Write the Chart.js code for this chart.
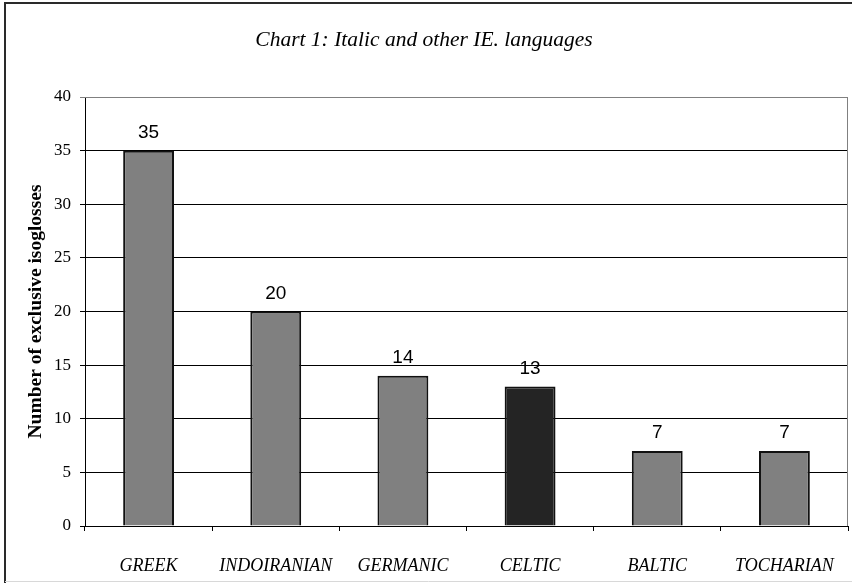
<!DOCTYPE html>
<html>
<head>
<meta charset="utf-8">
<script src="https://cdn.jsdelivr.net/npm/chart.js@4/dist/chart.umd.min.js"></script>
<style>
  html, body { margin: 0; padding: 0; background: #fff; }
  #wrap { width: 852px; height: 583px; }
</style>
</head>
<body>
<div id="wrap"><canvas id="chart" width="852" height="583"></canvas></div>
<script>
const languages = ['GREEK', 'INDOIRANIAN', 'GERMANIC', 'CELTIC', 'BALTIC', 'TOCHARIAN'];
const isoglosses = [35, 20, 14, 13, 7, 7];
const barColors = ['#808080', '#808080', '#808080', '#242424', '#808080', '#808080'];
const yTicks = [0, 5, 10, 15, 20, 25, 30, 35, 40];

const serif = '"Liberation Serif", "Times New Roman", serif';
const sans = '"Liberation Sans", Arial, sans-serif';

// numbers above each bar + the outer frame and the grey plot-area edge
const decorations = {
    id: 'decorations',
    afterDatasetsDraw(chart) {
        const c = chart.ctx;
        const meta = chart.getDatasetMeta(0);
        c.save();
        c.fillStyle = '#000';
        c.font = '19px ' + sans;
        c.textAlign = 'center';
        c.textBaseline = 'alphabetic';
        meta.data.forEach((bar, i) => {
            c.fillText(String(isoglosses[i]), bar.x, bar.y - 13);
        });
        c.restore();
    },
    afterDraw(chart) {
        const c = chart.ctx;
        const a = chart.chartArea;
        c.save();
        // plot area top/right edge
        c.strokeStyle = '#808080';
        c.lineWidth = 1;
        c.beginPath();
        c.moveTo(a.left, a.top + 0.5);
        c.lineTo(a.right - 0.5, a.top + 0.5);
        c.lineTo(a.right - 0.5, a.bottom);
        c.stroke();
        // outer frame
        c.strokeStyle = '#2a2a2a';
        c.lineWidth = 2;
        c.beginPath();
        c.moveTo(852, 3);
        c.lineTo(5, 3);
        c.lineTo(5, 583);
        c.stroke();
        c.strokeStyle = '#d8d8d8';
        c.lineWidth = 1;
        c.beginPath();
        c.moveTo(5, 581.5);
        c.lineTo(852, 581.5);
        c.stroke();
        c.restore();
    }
};

new Chart(document.getElementById('chart'), {
    type: 'bar',
    data: {
        labels: languages,
        datasets: [{
            data: isoglosses,
            backgroundColor: barColors,
            borderColor: '#111',
            borderWidth: 2,
            categoryPercentage: 1,
            barPercentage: 0.4
        }]
    },
    options: {
        responsive: false,
        animation: false,
        layout: { padding: { left: 0, right: 4, top: 0, bottom: 0 } },
        plugins: {
            legend: { display: false },
            tooltip: { enabled: false },
            title: {
                display: true,
                text: 'Chart 1: Italic and other IE. languages',
                color: '#000',
                font: { family: serif, size: 21.5, style: 'italic', weight: 'normal', lineHeight: 1.2 },
                padding: { top: 27, bottom: 44.2 }
            }
        },
        scales: {
            x: {
                afterFit(scale) {
                    scale.height = 57;
                    scale.paddingLeft = 0;
                    scale.paddingRight = 0;
                },
                grid: { offset: true, drawOnChartArea: false, drawTicks: true, tickLength: 5, color: '#000' },
                border: { display: true, color: '#000', width: 1 },
                ticks: {
                    color: '#000',
                    padding: 24,
                    maxRotation: 0,
                    autoSkip: false,
                    font: { family: serif, size: 18, style: 'italic' }
                }
            },
            y: {
                min: 0,
                max: 40,
                afterFit(scale) { scale.width = 85; },
                afterBuildTicks(scale) { scale.ticks = yTicks.map(v => ({ value: v })); },
                grid: {
                    color: ctx => (ctx.tick && ctx.tick.value === 40 ? '#808080' : '#000'),
                    tickLength: 5,
                    lineWidth: 1
                },
                border: { display: true, color: '#000', width: 1 },
                ticks: {
                    color: '#000',
                    padding: 9,
                    font: { family: serif, size: 17 }
                },
                title: {
                    display: true,
                    text: 'Number of exclusive isoglosses',
                    color: '#000',
                    font: { family: serif, size: 19.5, weight: 'bold' },
                    padding: { top: 24, bottom: 0 }
                }
            }
        }
    },
    plugins: [decorations]
});
</script>
</body>
</html>
